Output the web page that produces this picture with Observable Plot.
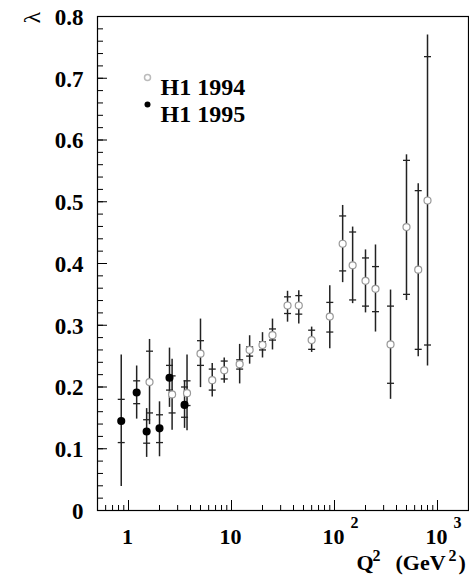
<!DOCTYPE html>
<html><head><meta charset="utf-8">
<script src="https://cdn.jsdelivr.net/npm/d3@7"></script>
<script src="https://cdn.jsdelivr.net/npm/@observablehq/plot@0.6"></script>
<style>body{margin:0;background:#fff}</style>
</head><body><div id="chart"></div>
<script>
// H1 1994 (open circles)
const q2_1994 = [1.6, 2.65, 3.7, 5, 6.5, 8.5, 12, 15, 20, 25, 35, 45, 60, 90, 120, 150, 200, 250, 350, 500, 650, 800];
const lam_1994 = [0.208, 0.188, 0.190, 0.254, 0.211, 0.227, 0.237, 0.260, 0.268, 0.284, 0.332, 0.332, 0.276, 0.314, 0.432, 0.397, 0.372, 0.359, 0.269, 0.459, 0.390, 0.502];
const statLo_1994 = [0.158, 0.158, 0.170, 0.235, 0.195, 0.213, 0.229, 0.250, 0.260, 0.276, 0.319, 0.318, 0.261, 0.289, 0.388, 0.341, 0.331, 0.322, 0.206, 0.350, 0.261, 0.268];
const statHi_1994 = [0.258, 0.218, 0.210, 0.275, 0.229, 0.242, 0.244, 0.265, 0.273, 0.294, 0.346, 0.348, 0.292, 0.337, 0.477, 0.451, 0.409, 0.395, 0.331, 0.567, 0.518, 0.735];
const totLo_1994 = [0.139, 0.130, 0.129, 0.199, 0.184, 0.206, 0.205, 0.237, 0.247, 0.260, 0.305, 0.302, 0.256, 0.262, 0.369, 0.335, 0.320, 0.289, 0.180, 0.340, 0.249, 0.234];
const totHi_1994 = [0.277, 0.245, 0.252, 0.310, 0.238, 0.247, 0.269, 0.283, 0.288, 0.310, 0.355, 0.356, 0.297, 0.364, 0.494, 0.459, 0.422, 0.430, 0.357, 0.576, 0.529, 0.770];

// H1 1995 (filled circles)
const q2_1995 = [0.85, 1.2, 1.5, 2.0, 2.5, 3.5];
const lam_1995 = [0.145, 0.191, 0.128, 0.133, 0.215, 0.171];
const statLo_1995 = [0.110, 0.173, 0.109, 0.110, 0.195, 0.151];
const statHi_1995 = [0.180, 0.210, 0.147, 0.155, 0.235, 0.200];
const totLo_1995 = [0.039, 0.148, 0.086, 0.087, 0.167, 0.133];
const totHi_1995 = [0.252, 0.234, 0.165, 0.176, 0.263, 0.210];

// axis ticks / labels
const yMajor = [0, 0.1, 0.2, 0.3, 0.4, 0.5, 0.6, 0.7, 0.8];
const yLabels = ["0", "0.1", "0.2", "0.3", "0.4", "0.5", "0.6", "0.7", "0.8"];
const xMajor = [1, 10, 100, 1000];
const xBase = ["1", "10", "10", "10"];
const xExp = ["", "", "2", "3"];
const legendNames = ["H1 1994", "H1 1995"];

const rows = (q, l, sl, sh, tl, th) => q.map((d, i) => ({q2: d, lam: l[i], sLo: sl[i], sHi: sh[i], tLo: tl[i], tHi: th[i]}));
const d94 = rows(q2_1994, lam_1994, statLo_1994, statHi_1994, totLo_1994, totHi_1994);
const d95 = rows(q2_1995, lam_1995, statLo_1995, statHi_1995, totLo_1995, totHi_1995);
const all = d94.concat(d95);

const yMinor = d3.range(0, 41).map(i => i * 0.02);
const xMinor = [];
[0.1, 1, 10, 100].forEach(dec => { for (let k = 2; k <= 9; k++) { const v = dec * k; if (v > 0.5 && v < 2000) xMinor.push(v); } });

const hline = {draw(ctx, size) { const r = Math.sqrt(size / Math.PI); ctx.moveTo(-r, 0); ctx.lineTo(r, 0); }};

const W = 469, H = 580, mL = 97, mR = 1, mT = 16, mB = 70;
const iW = W - mL - mR, iH = H - mT - mB;
const font = "Liberation Serif, Times New Roman, serif";
const lbl = {fontFamily: font, fontWeight: "bold", fill: "#000"};

const chart = Plot.plot({
  width: W, height: H,
  marginLeft: mL, marginRight: mR, marginTop: mT, marginBottom: mB,
  x: {type: "log", domain: [0.5, 2000], axis: null},
  y: {domain: [0, 0.8], axis: null},
  marks: [
    Plot.ruleY(yMinor, {insetRight: iW - 6, stroke: "#000"}),
    Plot.ruleY(yMajor, {insetRight: iW - 10, stroke: "#000"}),
    Plot.ruleX(xMinor, {insetTop: iH - 5, stroke: "#000"}),
    Plot.ruleX(xMajor, {insetTop: iH - 10, stroke: "#000"}),
    Plot.frame({stroke: "#000", strokeWidth: 1.2}),
    Plot.ruleX(all, {x: "q2", y1: "tLo", y2: "tHi", stroke: "#222", strokeWidth: 1.5}),
    Plot.dot(all, {x: "q2", y: "sLo", symbol: hline, r: 3.5, stroke: "#222", strokeWidth: 1.3}),
    Plot.dot(all, {x: "q2", y: "sHi", symbol: hline, r: 3.5, stroke: "#222", strokeWidth: 1.3}),
    Plot.dot(d94, {x: "q2", y: "lam", r: 3.5, fill: "white", stroke: "#999", strokeWidth: 1.2}),
    Plot.dot(d95, {x: "q2", y: "lam", r: 3.3, fill: "black", stroke: "black"}),
    // y tick labels
    Plot.text(yMajor, {y: d => d, text: (d, i) => yLabels[i], frameAnchor: "left", dx: -14, dy: 1, textAnchor: "end", fontSize: 23, ...lbl}),
    // x tick labels
    Plot.text(xMajor, {x: d => d, text: (d, i) => xBase[i], frameAnchor: "bottom", dy: 33, dx: -1, fontSize: 22, ...lbl}),
    Plot.text(xMajor, {x: d => d, text: (d, i) => xExp[i], frameAnchor: "bottom", dy: 17, dx: 16, textAnchor: "start", fontSize: 16, ...lbl}),
    // y title
    Plot.text(["λ"], {frameAnchor: "top-left", dx: -75, dy: 7, rotate: -90, fontSize: 24, fontFamily: font, fill: "#000"}),
    // x title
    Plot.text(["Q"], {frameAnchor: "bottom-right", dx: -112, dy: 59, textAnchor: "start", fontSize: 22, ...lbl}),
    Plot.text(["2"], {frameAnchor: "bottom-right", dx: -96, dy: 50, textAnchor: "start", fontSize: 16, ...lbl}),
    Plot.text(["(GeV"], {frameAnchor: "bottom-right", dx: -73, dy: 59, textAnchor: "start", fontSize: 22, ...lbl}),
    Plot.text(["2"], {frameAnchor: "bottom-right", dx: -20, dy: 50, textAnchor: "start", fontSize: 16, ...lbl}),
    Plot.text([")"], {frameAnchor: "bottom-right", dx: -10, dy: 59, textAnchor: "start", fontSize: 22, ...lbl}),
    // legend
    Plot.dot([legendNames[0]], {frameAnchor: "top-left", dx: 50, dy: 61, r: 3, fill: "white", stroke: "#bbb"}),
    Plot.dot([legendNames[1]], {frameAnchor: "top-left", dx: 50, dy: 88, r: 3, fill: "black"}),
    Plot.text([legendNames[0]], {frameAnchor: "top-left", dx: 63, dy: 61, textAnchor: "start", fontSize: 24, ...lbl}),
    Plot.text([legendNames[1]], {frameAnchor: "top-left", dx: 63, dy: 88, textAnchor: "start", fontSize: 24, ...lbl})
  ]
});
document.getElementById("chart").appendChild(chart);
</script>
</body></html>
